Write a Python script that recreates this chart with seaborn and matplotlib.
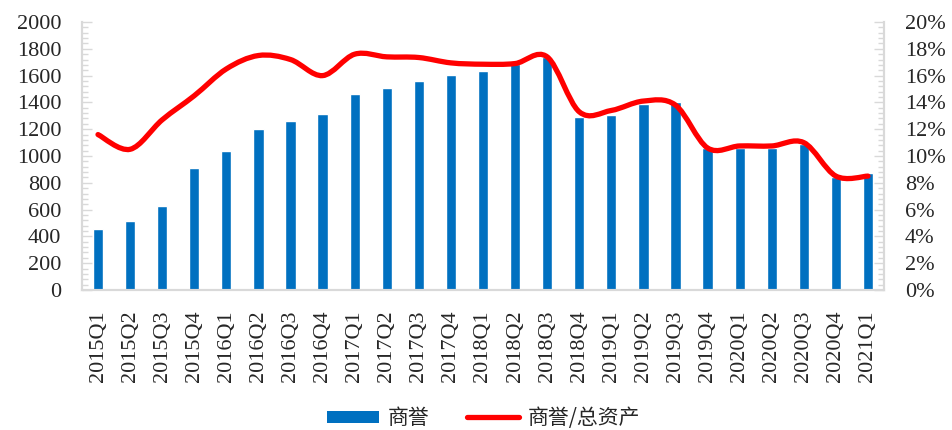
import numpy as np
import matplotlib
matplotlib.use('Agg')
import matplotlib.pyplot as plt
import seaborn as sns
from matplotlib.path import Path
from matplotlib.patches import PathPatch, Patch
from matplotlib.lines import Line2D
from matplotlib.ticker import MultipleLocator, FuncFormatter

# Data
quarters = ['2015Q1', '2015Q2', '2015Q3', '2015Q4',
            '2016Q1', '2016Q2', '2016Q3', '2016Q4',
            '2017Q1', '2017Q2', '2017Q3', '2017Q4',
            '2018Q1', '2018Q2', '2018Q3', '2018Q4',
            '2019Q1', '2019Q2', '2019Q3', '2019Q4',
            '2020Q1', '2020Q2', '2020Q3', '2020Q4',
            '2021Q1']
goodwill = [457, 515, 627, 914, 1037, 1201, 1259, 1311,
            1460, 1510, 1560, 1602, 1634, 1690, 1742, 1289,
            1303, 1390, 1403, 1057, 1062, 1062, 1092, 846,
            875]
goodwill_ratio = [11.6, 10.5, 12.7, 14.5, 16.5, 17.5, 17.2, 16.0,
                  17.6, 17.4, 17.35, 16.95, 16.85, 16.9, 17.4, 13.3,
                  13.4, 14.1, 13.8, 10.6, 10.75, 10.75, 11.0, 8.5,
                  8.5]

bar_color = '#0070C0'
line_color = '#FF0000'
spine_color = '#D9D9D9'

sns.set_style('white')
plt.rcParams['font.family'] = ['Liberation Serif', 'Noto Sans CJK SC']

fig = plt.figure(figsize=(9.52, 4.30), dpi=100)
ax = fig.add_axes([0.0861, 0.3256, 0.8425, 0.6232])

# Bars: goodwill
sns.barplot(x=quarters, y=goodwill, color=bar_color, saturation=1,
            width=0.32, ax=ax)
ax.set_xlim(-0.5, len(quarters) - 0.5)
ax.set_ylim(0, 2000)
ax.yaxis.set_major_locator(MultipleLocator(200))
ax.yaxis.set_minor_locator(MultipleLocator(40))
ax.tick_params(axis='y', which='major', direction='in', length=7, width=1,
               color=spine_color, pad=15, labelsize=16)
ax.tick_params(axis='y', which='minor', direction='in', length=4, width=1,
               color=spine_color)
ax.tick_params(axis='x', length=0, pad=15, labelsize=16, labelrotation=90)
ax.set_xlabel('')
ax.set_ylabel('')

# Line: goodwill / total assets, smoothed like Excel
ax2 = ax.twinx()
ax2.set_ylim(0, 20)
ax2.yaxis.set_major_locator(MultipleLocator(2))
ax2.yaxis.set_minor_locator(MultipleLocator(0.4))
ax2.yaxis.set_major_formatter(FuncFormatter(lambda v, p: '{:.0f}%'.format(v)))
ax2.tick_params(axis='y', which='major', direction='in', length=7, width=1,
                color=spine_color, pad=15, labelsize=16)
ax2.tick_params(axis='y', which='minor', direction='in', length=4, width=1,
                color=spine_color)

xs = np.arange(len(goodwill_ratio), dtype=float)
ys = np.array(goodwill_ratio, dtype=float)
verts = [(xs[0], ys[0])]
codes = [Path.MOVETO]
n = len(xs)
for i in range(n - 1):
    p0 = np.array([xs[max(i - 1, 0)], ys[max(i - 1, 0)]])
    p1 = np.array([xs[i], ys[i]])
    p2 = np.array([xs[i + 1], ys[i + 1]])
    p3 = np.array([xs[min(i + 2, n - 1)], ys[min(i + 2, n - 1)]])
    c1 = p1 + (p2 - p0) / 6
    c2 = p2 - (p3 - p1) / 6
    verts += [tuple(c1), tuple(c2), tuple(p2)]
    codes += [Path.CURVE4] * 3
ax2.add_patch(PathPatch(Path(verts, codes), facecolor='none',
                        edgecolor=line_color, lw=3.8, capstyle='round',
                        joinstyle='round', zorder=3))

for a in (ax, ax2):
    for side in ('left', 'right', 'bottom'):
        a.spines[side].set_color(spine_color)
        a.spines[side].set_linewidth(1.5)
    a.spines['top'].set_visible(False)

# Legend
handles = [Patch(facecolor=bar_color, edgecolor='none'),
           Line2D([], [], color=line_color, lw=3.8, solid_capstyle='round')]
fig.legend(handles, ['商誉', '商誉/总资产'], loc='center',
           bbox_to_anchor=(0.508, 0.028), ncol=2, frameon=False,
           handlelength=2.5, handleheight=0.5, handletextpad=0.4,
           columnspacing=1.8,
           prop={'family': ['Noto Sans CJK SC'], 'size': 15})

fig.savefig('out.png', dpi=100)
